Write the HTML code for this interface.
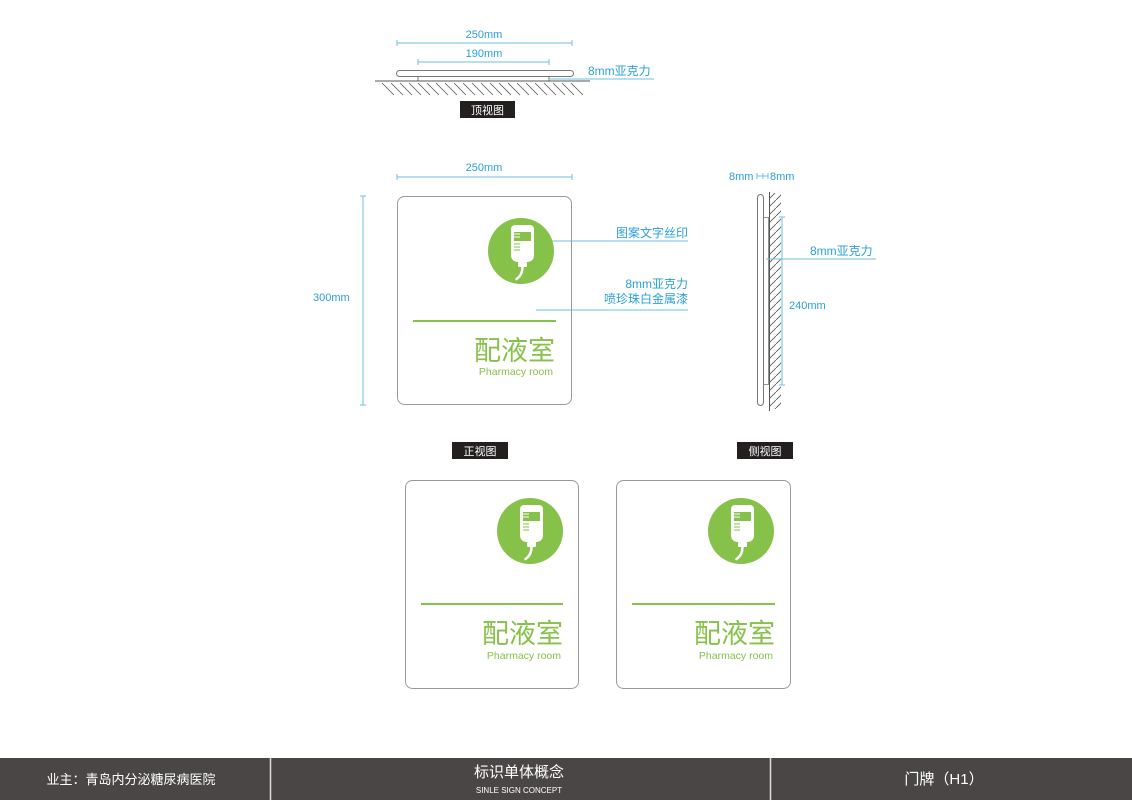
<!DOCTYPE html>
<html><head><meta charset="utf-8"><style>
html,body{margin:0;padding:0;background:#fff;}
svg{display:block;}
text{font-family:"Liberation Sans","Noto Sans CJK SC",sans-serif;}
</style></head><body>
<svg width="1132" height="800" viewBox="0 0 1132 800" xmlns="http://www.w3.org/2000/svg">
<defs>
<g id="icon">
  <circle cx="0" cy="0" r="33" fill="#86c14a"/>
  <path d="M-10,-22 a4,4 0 0 1 4,-4 h15 a4,4 0 0 1 4,4 v26 q0,6 -6,7 h-11 q-6,-1 -6,-7 z" fill="#fff"/>
  <rect x="-7" y="-19" width="17" height="9" fill="#86c14a"/>
  <line x1="-7" y1="-17" x2="-1" y2="-17" stroke="#fff" stroke-width="1"/>
  <line x1="-7" y1="-14" x2="-1" y2="-14" stroke="#fff" stroke-width="1"/>
  <line x1="-7" y1="-7" x2="-1" y2="-7" stroke="#86c14a" stroke-width="1"/>
  <line x1="-7" y1="-4" x2="-1" y2="-4" stroke="#86c14a" stroke-width="1"/>
  <line x1="-7" y1="-1" x2="-1" y2="-1" stroke="#86c14a" stroke-width="1"/>
  <rect x="-3" y="11" width="9" height="5" rx="1" fill="#fff"/>
  <path d="M1.5,16 q0,8 -6,12" stroke="#fff" stroke-width="2.5" fill="none" stroke-linecap="round"/>
</g>
<pattern id="hatch" width="8" height="8" patternUnits="userSpaceOnUse">
  <line x1="0" y1="8" x2="8" y2="0" stroke="#555" stroke-width="0.8"/>
</pattern>
</defs>

<!-- top view -->
<g stroke="#6ec0e2" stroke-width="1">
  <line x1="397" y1="43" x2="572" y2="43"/><line x1="397" y1="40" x2="397" y2="46"/><line x1="572" y1="40" x2="572" y2="46"/>
  <line x1="418" y1="62" x2="549" y2="62"/><line x1="418" y1="59" x2="418" y2="65"/><line x1="549" y1="59" x2="549" y2="65"/>
  <line x1="550" y1="79" x2="654" y2="79"/>
</g>
<text x="484" y="38" font-size="11" fill="#2a9fd8" text-anchor="middle">250mm</text>
<text x="484" y="57" font-size="11" fill="#2a9fd8" text-anchor="middle">190mm</text>
<text x="588" y="75" font-size="12" fill="#2a9fd8">8mm亚克力</text>
<rect x="396.5" y="70.5" width="177" height="6" rx="3" fill="#fff" stroke="#777"/>
<line x1="418" y1="76" x2="418" y2="81" stroke="#777"/>
<line x1="549" y1="76" x2="549" y2="81" stroke="#777"/>
<line x1="375" y1="81" x2="590" y2="81" stroke="#555"/>
<g stroke="#555" stroke-width="0.8">
  <path d="M382,83 l12,12 M391,83 l12,12 M400,83 l12,12 M409,83 l12,12 M418,83 l12,12 M427,83 l12,12 M436,83 l12,12 M445,83 l12,12 M454,83 l12,12 M463,83 l12,12 M472,83 l12,12 M481,83 l12,12 M490,83 l12,12 M499,83 l12,12 M508,83 l12,12 M517,83 l12,12 M526,83 l12,12 M535,83 l12,12 M544,83 l12,12 M553,83 l12,12 M562,83 l12,12 M571,83 l12,12"/>
</g>
<rect x="460" y="101" width="55" height="17" fill="#231f1f"/>
<text x="487.5" y="114" font-size="11" fill="#fff" text-anchor="middle">顶视图</text>

<!-- front view -->
<g stroke="#6ec0e2" stroke-width="1">
  <line x1="397" y1="177" x2="572" y2="177"/><line x1="397" y1="174" x2="397" y2="180"/><line x1="572" y1="174" x2="572" y2="180"/>
  <line x1="363" y1="196" x2="363" y2="405"/><line x1="360" y1="196" x2="366" y2="196"/><line x1="360" y1="405" x2="366" y2="405"/>
  <line x1="552" y1="241" x2="688" y2="241"/>
  <line x1="536" y1="310" x2="688" y2="310"/>
</g>
<text x="484" y="171" font-size="11" fill="#2a9fd8" text-anchor="middle">250mm</text>
<text x="313" y="301" font-size="11" fill="#2a9fd8">300mm</text>
<text x="688" y="237" font-size="12" fill="#2a9fd8" text-anchor="end">图案文字丝印</text>
<text x="688" y="288" font-size="12" fill="#2a9fd8" text-anchor="end">8mm亚克力</text>
<text x="688" y="303" font-size="12" fill="#2a9fd8" text-anchor="end">喷珍珠白金属漆</text>
<rect x="397.5" y="196.5" width="174" height="208" rx="7" fill="none" stroke="#999"/>
<use href="#icon" transform="translate(521,251)"/>
<line x1="413" y1="321" x2="556" y2="321" stroke="#86c14a" stroke-width="2"/>
<text x="555" y="360" font-size="27" fill="#86c14a" text-anchor="end">配液室</text>
<text x="553" y="375" font-size="10.5" fill="#86c14a" text-anchor="end">Pharmacy room</text>
<rect x="452" y="442" width="56" height="17" fill="#231f1f"/>
<text x="480" y="455" font-size="11" fill="#fff" text-anchor="middle">正视图</text>

<!-- side view -->
<text x="729" y="180" font-size="11" fill="#2a9fd8">8mm</text>
<g stroke="#6ec0e2"><line x1="757" y1="176" x2="768" y2="176"/><line x1="757" y1="173" x2="757" y2="179"/><line x1="763" y1="173" x2="763" y2="179"/><line x1="768" y1="173" x2="768" y2="179"/></g>
<text x="770" y="180" font-size="11" fill="#2a9fd8">8mm</text>
<rect x="770" y="193" width="11" height="216" fill="url(#hatch)"/>
<line x1="769.5" y1="192" x2="769.5" y2="411" stroke="#555"/>
<rect x="763.5" y="217.5" width="5" height="167" fill="#fff" stroke="#777" stroke-width="0.8"/>
<rect x="757.5" y="194.5" width="6" height="211" rx="3" fill="#fff" stroke="#777"/>
<g stroke="#6ec0e2"><line x1="782" y1="217" x2="782" y2="385"/><line x1="779" y1="217" x2="785" y2="217"/><line x1="779" y1="385" x2="785" y2="385"/>
<line x1="766" y1="259" x2="876" y2="259"/></g>
<text x="810" y="255" font-size="12" fill="#2a9fd8">8mm亚克力</text>
<text x="789" y="309" font-size="11" fill="#2a9fd8">240mm</text>
<rect x="737" y="442" width="56" height="17" fill="#231f1f"/>
<text x="765" y="455" font-size="11" fill="#fff" text-anchor="middle">侧视图</text>

<!-- bottom signs -->
<rect x="405.5" y="480.5" width="173" height="208" rx="7" fill="none" stroke="#999"/>
<use href="#icon" transform="translate(530,531)"/>
<line x1="421" y1="604" x2="563" y2="604" stroke="#86c14a" stroke-width="2"/>
<text x="563" y="643" font-size="27" fill="#86c14a" text-anchor="end">配液室</text>
<text x="561" y="659" font-size="10.5" fill="#86c14a" text-anchor="end">Pharmacy room</text>

<rect x="616.5" y="480.5" width="174" height="208" rx="7" fill="none" stroke="#999"/>
<use href="#icon" transform="translate(741,531)"/>
<line x1="632" y1="604" x2="775" y2="604" stroke="#86c14a" stroke-width="2"/>
<text x="775" y="643" font-size="27" fill="#86c14a" text-anchor="end">配液室</text>
<text x="773" y="659" font-size="10.5" fill="#86c14a" text-anchor="end">Pharmacy room</text>

<!-- footer -->
<rect x="0" y="758" width="1132" height="42" fill="#4a4646"/>
<line x1="270.5" y1="758" x2="270.5" y2="800" stroke="#ddd" stroke-width="1.5"/>
<line x1="770.5" y1="758" x2="770.5" y2="800" stroke="#ddd" stroke-width="1.5"/>
<text x="131" y="784" font-size="13" fill="#fff" text-anchor="middle">业主：青岛内分泌糖尿病医院</text>
<text x="519" y="777" font-size="15" fill="#fff" text-anchor="middle">标识单体概念</text>
<text x="519" y="793" font-size="8" fill="#fff" text-anchor="middle">SINLE SIGN CONCEPT</text>
<text x="944" y="784" font-size="15" fill="#fff" text-anchor="middle">门牌（H1）</text>
</svg>
</body></html>
